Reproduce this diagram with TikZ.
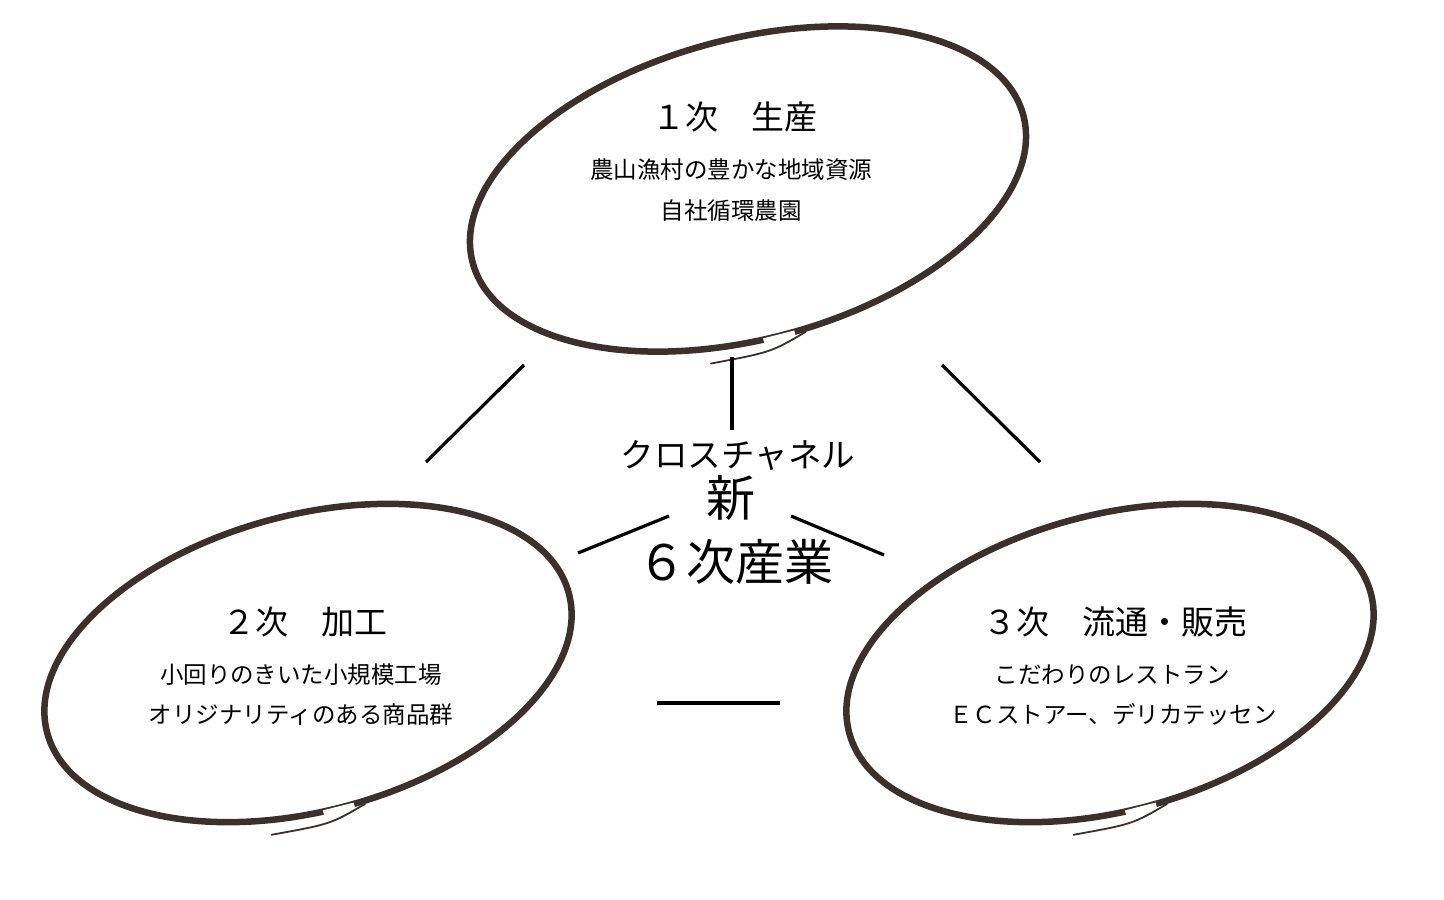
\documentclass[tikz,border=0pt]{standalone}
\usepackage{fontspec}
\setmainfont{Noto Sans CJK JP}
\usetikzlibrary{shapes.geometric,calc}
\definecolor{brush}{HTML}{3A302E}
\tikzset{
  ring/.style={ellipse, draw=brush, line width=6.5pt, inner sep=0pt, rotate=15},
  bigring/.style={ring, minimum width=570pt, minimum height=300pt},
  smallring/.style={ring, minimum width=540pt, minimum height=296pt},
  gapline/.style={draw=white, line width=9pt},
  tail/.style={draw=brush, line width=1.8pt, line cap=round},
  link/.style={draw=black, line width=3.2pt},
  head/.style={inner sep=0pt, font=\fontsize{33}{40}\selectfont},
  body/.style={inner sep=0pt, font=\fontsize{23.5}{28}\selectfont},
  core/.style={inner sep=0pt, font=\fontsize{49}{58}\selectfont},
  corelbl/.style={inner sep=0pt, font=\fontsize{33.5}{40}\selectfont}
}
\begin{document}
\begin{tikzpicture}[x=1pt,y=-1pt]
\useasboundingbox[fill=white] (0,0) rectangle (1444,900);

% ellipses
\node[bigring] (e1) at (748,189) {};
\node[smallring] (e2) at (308,663) {};
\node[smallring] (e3) at (1110,663) {};

% brush ends near the bottom of each ellipse
\foreach \e in {e1,e2,e3}{
  \path[gapline] (\e.261) -- (\e.273);
  \path[tail] ($(\e.center)!1.075!(\e.243)$) .. controls ($(\e.center)!1.07!(\e.263)$) .. (\e.277);
}

% top ellipse texts
\node[head] (t1) at (735,117) {１次　生産};
\node[body] (t1a) at (731,170) {農山漁村の豊かな地域資源};
\node[body] (t1b) at (731,211) {自社循環農園};

% left ellipse texts
\node[head] (t2) at (305,622) {２次　加工};
\node[body] (t2a) at (301,675) {小回りのきいた小規模工場};
\node[body] (t2b) at (301,715) {オリジナリティのある商品群};

% right ellipse texts
\node[head] (t3) at (1115,622) {３次　流通・販売};
\node[body] (t3a) at (1112,675) {こだわりのレストラン};
\node[body] (t3b) at (1113,714) {ＥＣストアー、デリカテッセン};

% center texts
\node[corelbl] (c1) at (738,455) {クロスチャネル};
\node[core] (c2) at (731,498) {新};
\node[core] (c3) at (735,562) {６次産業};

% connector end points
\coordinate (a1) at (524,365); \coordinate (a2) at (426,462);
\coordinate (b1) at (732,357); \coordinate (b2) at (732,430);
\coordinate (d1) at (942,365); \coordinate (d2) at (1040,462);
\coordinate (f1) at (578,553); \coordinate (f2) at (669,516);
\coordinate (g1) at (791,516); \coordinate (g2) at (884,555);
\coordinate (h1) at (657,703); \coordinate (h2) at (780,703);

\path[link] (a1) -- (a2);
\path[link] (b1) -- (b2);
\path[link] (d1) -- (d2);
\path[link] (f1) -- (f2);
\path[link] (g1) -- (g2);
\path[link] (h1) -- (h2);
\end{tikzpicture}
\end{document}
